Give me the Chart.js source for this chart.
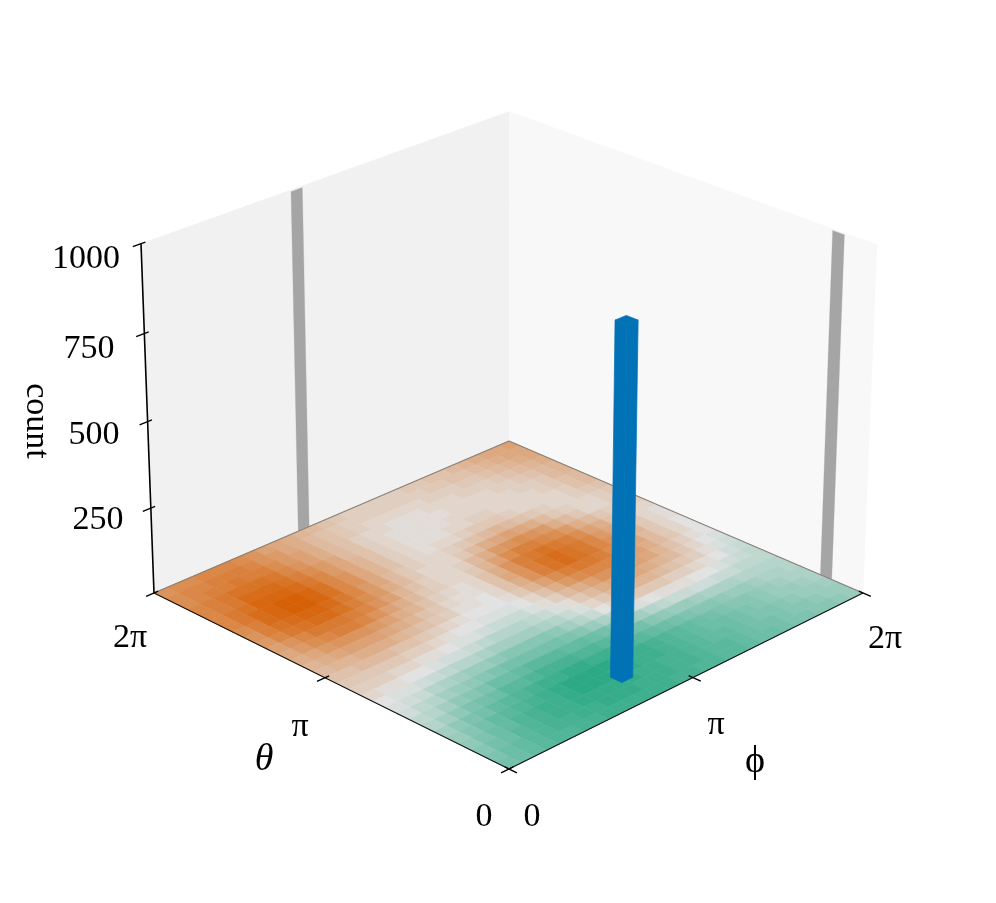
<!DOCTYPE html>
<html><head><meta charset="utf-8">
<style>html,body{margin:0;padding:0;background:#fff}canvas{display:block}</style>
<script src="https://cdn.jsdelivr.net/npm/chart.js@4"></script>
</head><body><canvas id="c" width="996" height="903"></canvas>
<script>
const TAU = Math.PI * 2;
const countTicks = [250, 500, 750, 1000];
const countLabels = ['250', '500', '750', '1000'];
const angleTicks = [0, Math.PI, TAU];
const angleLabels = ['0', 'π', '2π'];
const barTheta = [0.616];
const barPhi = [2.54];
const barCount = [995];
const barWidth = 0.19;
// surface level per cell, rows = theta, columns = phi; + orange, - green
const density = [
[-12,-13,-14,-15,-16,-16,-17,-17,-18,-18,-18,-18,-18,-18,-17,-17,-16,-16,-15,-15,-14,-13,-13,-12,-11,-11,-10,-10,-9,-8],
[-11,-13,-14,-15,-16,-17,-17,-18,-18,-19,-19,-19,-18,-18,-18,-17,-17,-16,-15,-15,-14,-13,-12,-12,-11,-10,-10,-9,-8,-8],
[-10,-12,-13,-15,-16,-17,-18,-18,-19,-19,-19,-19,-19,-18,-18,-17,-17,-16,-15,-14,-14,-13,-12,-11,-11,-10,-9,-8,-8,-7],
[-9,-11,-13,-14,-16,-17,-18,-18,-19,-20,-20,-20,-19,-19,-18,-18,-17,-16,-15,-14,-13,-13,-12,-11,-10,-9,-8,-8,-7,-6],
[-8,-10,-12,-14,-15,-16,-17,-18,-19,-20,-20,-20,-20,-19,-18,-18,-17,-16,-15,-14,-13,-12,-11,-10,-10,-9,-8,-7,-6,-6],
[-7,-9,-11,-12,-14,-15,-16,-17,-18,-18,-19,-19,-18,-18,-17,-16,-15,-14,-13,-12,-11,-10,-10,-9,-8,-8,-7,-6,-6,-5],
[-5,-7,-9,-11,-12,-13,-15,-15,-16,-17,-17,-17,-16,-16,-15,-14,-13,-12,-10,-9,-8,-8,-7,-6,-6,-6,-5,-5,-5,-5],
[-4,-5,-7,-9,-10,-11,-13,-13,-14,-15,-15,-15,-14,-14,-13,-12,-10,-8,-7,-5,-4,-3,-3,-2,-2,-3,-3,-4,-4,-4],
[-2,-4,-5,-7,-8,-9,-10,-11,-12,-12,-12,-12,-12,-11,-10,-8,-6,-4,-2,-1,0,1,1,1,0,0,-1,-2,-3,-4],
[-1,-2,-3,-5,-6,-7,-8,-8,-9,-10,-10,-10,-10,-9,-7,-5,-3,0,2,3,4,4,4,3,3,2,1,0,-2,-3],
[0,-1,-1,-2,-3,-4,-5,-5,-6,-7,-7,-7,-7,-6,-5,-3,-1,2,4,6,7,7,7,6,5,4,3,1,-1,-2],
[2,1,1,0,0,-1,-2,-2,-3,-4,-5,-5,-5,-4,-3,-1,1,4,6,8,9,10,9,8,7,6,4,2,0,-1],
[3,3,3,2,2,1,1,0,-1,-1,-2,-3,-3,-3,-1,1,3,6,8,10,12,12,12,10,9,7,5,3,1,0],
[4,4,4,4,4,3,3,2,1,0,0,-1,-1,-1,0,2,5,8,11,13,14,14,14,12,10,8,6,4,2,0],
[5,5,6,6,6,5,5,4,3,2,1,0,0,0,1,4,7,10,13,15,16,16,15,13,11,9,6,4,2,0],
[6,7,7,8,8,8,7,6,5,4,3,1,1,0,2,5,8,12,15,17,18,17,16,14,12,9,7,4,2,1],
[7,8,9,10,10,10,9,8,7,5,4,2,1,1,2,5,9,12,15,17,18,17,16,14,11,9,6,4,2,1],
[8,9,11,12,12,12,11,10,8,7,5,3,2,1,2,5,8,12,15,16,17,16,15,13,10,8,5,3,2,2],
[9,11,13,14,15,15,14,12,10,8,6,4,3,2,2,4,7,10,13,15,15,14,13,11,8,6,4,3,2,3],
[10,12,14,16,16,16,15,14,12,10,7,5,3,2,2,3,6,8,11,12,13,12,11,8,6,4,2,2,3,3],
[11,14,16,17,18,18,17,15,13,11,8,6,4,2,2,2,4,6,8,9,10,9,8,6,4,3,2,2,3,4],
[12,15,17,18,19,19,18,16,14,11,9,6,4,3,2,2,3,4,5,6,7,6,5,4,3,2,2,3,4,5],
[13,15,18,19,20,20,19,17,14,12,9,7,5,3,2,1,2,2,3,4,4,4,3,2,2,2,2,3,5,6],
[14,16,18,19,20,20,19,17,14,12,9,7,5,3,2,1,1,1,2,2,3,3,2,2,2,2,3,4,5,6],
[14,16,17,19,19,19,18,16,14,11,9,7,5,3,2,1,1,1,1,2,2,2,2,2,2,3,3,4,6,7],
[14,15,16,18,18,18,17,15,13,11,9,6,5,3,2,1,1,1,1,1,2,2,2,2,3,3,4,5,6,7],
[14,15,16,17,17,17,16,14,12,10,8,6,5,3,2,2,1,1,1,2,2,2,3,3,3,4,5,6,7,8],
[13,14,15,15,16,15,15,13,11,10,8,6,5,4,3,2,2,2,2,2,3,3,3,4,4,5,6,7,8,9],
[13,14,14,15,15,15,14,12,11,9,8,6,5,4,3,3,3,3,3,3,3,4,4,5,5,6,7,8,9,9],
[12,13,13,14,14,14,13,12,10,9,8,7,6,5,4,3,3,3,3,3,4,4,5,5,6,7,8,9,9,10]
];

// perspective camera for the 3-D box: (theta, phi, count) -> plot coordinates
const cam = {a:-343.08,b:423.45,c:509,d:-130.08,e:-128.28,f:769,g:0.07743,h:0.08047,p:-19.58,q:-386,r:-0.03957};
function proj(theta, phi, count) {
  const u = theta / TAU, v = phi / TAU, z = count / 1000;
  const w = cam.g*u + cam.h*v + 1 + cam.r*z;
  return {x:(cam.a*u + cam.b*v + cam.c + cam.p*z)/w, y:(cam.d*u + cam.e*v + cam.f + cam.q*z)/w};
}
const datasets = [];
function poly(pts, color, edge, edgeW) {
  datasets.push({data:pts.concat([pts[0]]), fill:'shape', backgroundColor:color,
    borderColor:edge||color, borderWidth:edgeW===undefined?0.7:edgeW, showLine:true, tension:0, pointRadius:0});
}
function line(a, b, color, w) {
  datasets.push({data:[a,b], fill:false, borderColor:color, borderWidth:w, showLine:true, tension:0, pointRadius:0, borderCapStyle:'butt'});
}
const ZT = 1000;
// walls
poly([proj(TAU,0,0),proj(TAU,TAU,0),proj(TAU,TAU,ZT),proj(TAU,0,ZT)],'#f1f1f1','#f1f1f1',0.5);
poly([proj(0,TAU,0),proj(TAU,TAU,0),proj(TAU,TAU,ZT),proj(0,TAU,ZT)],'#f8f8f8','#f8f8f8',0.5);
// bar projections on the walls
const hw = barWidth/2;
barTheta.forEach((t,i)=>{
  const p=barPhi[i], n=barCount[i];
  poly([proj(TAU,p-hw,0),proj(TAU,p+hw,0),proj(TAU,p+hw,n),proj(TAU,p-hw,n)],'#a5a5a5','#a5a5a5',0.3);
  poly([proj(t-hw,TAU,0),proj(t+hw,TAU,0),proj(t+hw,TAU,n),proj(t-hw,TAU,n)],'#a5a5a5','#a5a5a5',0.3);
});
// surface cells
function cellColor(s){
  const t=Math.min(1,Math.abs(s)/20), z=[226,226,226], e=s>=0?[214,96,5]:[45,170,133];
  return 'rgb('+z.map((c,i)=>Math.round(c+(e[i]-c)*t)).join(',')+')';
}
const nT=density.length, nP=density[0].length;
for(let i=nT-1;i>=0;i--) for(let j=nP-1;j>=0;j--){
  const t0=i/nT*TAU,t1=(i+1)/nT*TAU,p0=j/nP*TAU,p1=(j+1)/nP*TAU;
  poly([proj(t0,p0,0),proj(t1,p0,0),proj(t1,p1,0),proj(t0,p1,0)],cellColor(density[i][j]));
}
// floor back edges
line(proj(TAU,0,0),proj(TAU,TAU,0),'#8a8078',1.1);
line(proj(0,TAU,0),proj(TAU,TAU,0),'#8a8078',1.1);
// axis lines
line(proj(0,0,0),proj(TAU,0,0),'#111',1.1);
line(proj(0,0,0),proj(0,TAU,0),'#111',1.1);
line(proj(TAU,0,0),proj(TAU,0,ZT),'#000',1.6);
const tOut=0.13, tIn=0.07;
angleTicks.forEach(a=>{
  line(proj(a,-tOut,0),proj(a,tIn,0),'#000',1.4);
  line(proj(-tOut,a,0),proj(tIn,a,0),'#000',1.4);
});
countTicks.forEach(c=>line(proj(TAU,-tOut,c),proj(TAU,tIn,c),'#000',1.4));
// the bar itself
barTheta.forEach((t,i)=>{
  const p=barPhi[i], n=barCount[i], col='#0072b5';
  poly([proj(t-hw,p-hw,0),proj(t+hw,p-hw,0),proj(t+hw,p-hw,n),proj(t-hw,p-hw,n)],col);
  poly([proj(t-hw,p-hw,0),proj(t-hw,p+hw,0),proj(t-hw,p+hw,n),proj(t-hw,p-hw,n)],col);
  poly([proj(t-hw,p-hw,n),proj(t+hw,p-hw,n),proj(t+hw,p+hw,n),proj(t-hw,p+hw,n)],col);
});
datasets.forEach((d,i)=>{d.order=datasets.length-i;});

const labelFont='"Liberation Serif"';
const countLabelPos=[[98,520],[94,435],[89,349],[86,259]];
const thetaLabelPos=[[484,817],[300,727],[130,638]];
const phiLabelPos=[[532,817],[716,725],[885,639]];
const labels={id:'labels',afterDraw(ch){
  const c=ch.ctx; c.save(); c.fillStyle='#000'; c.textAlign='center'; c.textBaseline='middle';
  c.font='34px '+labelFont;
  countLabels.forEach((s,i)=>c.fillText(s,countLabelPos[i][0],countLabelPos[i][1]));
  angleLabels.forEach((s,i)=>{
    c.fillText(s,thetaLabelPos[i][0],thetaLabelPos[i][1]);
    c.fillText(s,phiLabelPos[i][0],phiLabelPos[i][1]);
  });
  c.font='italic 38px '+labelFont; c.fillText('θ',264,760);
  c.font='38px '+labelFont; c.fillText('ϕ',755,762);
  c.translate(36,421); c.rotate(Math.PI/2); c.font='34px '+labelFont; c.fillText('count',0,0);
  c.restore();
}};
new Chart(document.getElementById('c'),{
  type:'scatter',
  data:{datasets},
  plugins:[labels],
  options:{responsive:false,animation:false,events:[],parsing:false,
    layout:{padding:0},
    plugins:{legend:{display:false},tooltip:{enabled:false},title:{display:false}},
    scales:{x:{type:'linear',min:0,max:996,display:false},y:{type:'linear',min:0,max:903,reverse:true,display:false}}
  }
});
</script></body></html>
